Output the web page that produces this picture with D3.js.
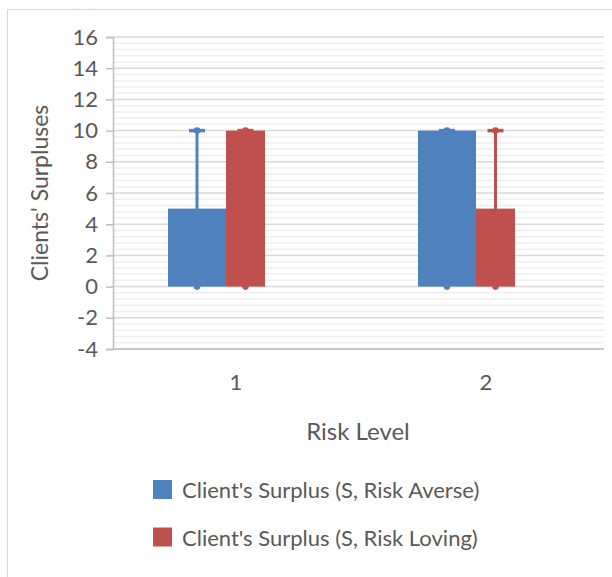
<!DOCTYPE html>
<html>
<head>
<meta charset="utf-8">
<script src="https://cdn.jsdelivr.net/npm/d3@7"></script>
<style>
  body { margin: 0; background: #fff; }
  text { font-family: Lato, "Open Sans", sans-serif; fill: #595959; }
</style>
</head>
<body>
<div id="chart"></div>
<script>
// data
const categories = ["1", "2"];
const seriesNames = ["Client's Surplus (S, Risk Averse)", "Client's Surplus (S, Risk Loving)"];
const averseValues = [5, 10];
const lovingValues = [10, 5];
// error bar range for each bar (low, high)
const errLow = [0, 0];
const errHigh = [10, 10];
const yTicks = [-4, -2, 0, 2, 4, 6, 8, 10, 12, 14, 16];

const colors = ["#4f81bd", "#c0504d"];

let svgWidth = 612, svgHeight = 577;
let plot = {left: 113, top: 37, right: 604, bottom: 349};

let svg = d3.select("#chart").append("svg")
    .attr("width", svgWidth)
    .attr("height", svgHeight);

// outer chart border
svg.append("rect")
    .attr("x", 7.5).attr("y", 9.5)
    .attr("width", 620).attr("height", 600)
    .attr("fill", "none")
    .attr("stroke", "#d9d9d9")
    .attr("stroke-width", 1.2);

// category positions; the bar groups sit about 250px apart
let x = d3.scaleBand().domain(categories).range([110, 610]);
let y = d3.scaleLinear().domain([-4, 16]).range([plot.bottom, plot.top]);

//minor gridlines every 0.4
let minor = d3.range(-4, 16.001, 0.4).filter(v => Math.abs(v / 2 - Math.round(v / 2)) > 0.01);
svg.append("g")
    .selectAll("line")
    .data(minor)
    .enter().append("line")
    .attr("x1", plot.left).attr("x2", plot.right)
    .attr("y1", d => y(d)).attr("y2", d => y(d))
    .attr("stroke", "#efefef")
    .attr("stroke-width", 1.5);

//major gridlines
svg.append("g")
    .selectAll("line")
    .data(yTicks)
    .enter().append("line")
    .attr("x1", plot.left).attr("x2", plot.right)
    .attr("y1", d => y(d)).attr("y2", d => y(d))
    .attr("stroke", "#d9d9d9")
    .attr("stroke-width", 1.5);

//y axis
let yAxis = svg.append("g")
    .attr("transform", `translate(${plot.left}, 0)`)
    .call(d3.axisLeft(y).tickValues(yTicks).tickSize(7).tickPadding(8)
        .tickFormat(d => String(d)));
yAxis.select(".domain").attr("stroke", "#bfbfbf").attr("stroke-width", 1.5);
yAxis.selectAll(".tick line").attr("stroke", "#bfbfbf").attr("stroke-width", 1.5);
yAxis.selectAll(".tick text")
    .style("font-size", "22px")
    .style("font-family", "Lato, sans-serif")
    .attr("fill", "#595959");

//x axis line along the bottom of the plot
svg.append("line")
    .attr("x1", plot.left).attr("x2", plot.right)
    .attr("y1", plot.bottom).attr("y2", plot.bottom)
    .attr("stroke", "#bfbfbf").attr("stroke-width", 1.5);

//category labels
svg.append("g")
    .selectAll("text")
    .data(categories)
    .enter().append("text")
    .attr("x", c => x(c) + x.bandwidth() / 2 + 1)
    .attr("y", 390)
    .attr("text-anchor", "middle")
    .style("font-size", "22px")
    .text(String);

// bar geometry relative to category centre
let barDefs = [
    {values: averseValues, offset: -67, width: 58, color: colors[0]},
    {values: lovingValues, offset: -9, width: 39, color: colors[1]}
];

let center = c => x(c) + x.bandwidth() / 2;

//error bars drawn behind the bars
barDefs.forEach(s => {
    let g = svg.append("g");
    categories.forEach((c, i) => {
        let cx = center(c) + s.offset + s.width / 2;
        g.append("line")
            .attr("x1", cx).attr("x2", cx)
            .attr("y1", y(errLow[i])).attr("y2", y(errHigh[i]))
            .attr("stroke", s.color).attr("stroke-width", 3);
        g.append("line")
            .attr("x1", cx - 8).attr("x2", cx + 8)
            .attr("y1", y(errHigh[i])).attr("y2", y(errHigh[i]))
            .attr("stroke", s.color).attr("stroke-width", 3.5);
        g.selectAll(null)
            .data([errLow[i], errHigh[i]])
            .enter().append("circle")
            .attr("cx", cx).attr("cy", d => y(d))
            .attr("r", 3.3)
            .attr("fill", s.color);
    });
});

//bars
barDefs.forEach(s => {
    svg.append("g")
        .selectAll("rect")
        .data(categories)
        .enter().append("rect")
        .attr("x", c => center(c) + s.offset)
        .attr("width", s.width)
        .attr("y", (c, i) => y(Math.max(0, s.values[i])))
        .attr("height", (c, i) => Math.abs(y(s.values[i]) - y(0)))
        .attr("fill", s.color);
});

//axis titles
svg.append("text")
    .attr("transform", `translate(42, ${(plot.top + plot.bottom) / 2}) rotate(-90)`)
    .attr("text-anchor", "middle")
    .attr("dominant-baseline", "middle")
    .style("font-size", "23px")
    .text("Clients' Surpluses");

svg.append("text")
    .attr("x", 358)
    .attr("y", 440)
    .attr("text-anchor", "middle")
    .style("font-size", "24px")
    .text("Risk Level");

//legend
let legend = svg.append("g")
    .selectAll("g")
    .data(seriesNames)
    .enter().append("g")
    .attr("transform", (d, i) => `translate(153, ${480 + i * 47.5})`);
legend.append("rect")
    .attr("width", 19).attr("height", 19)
    .attr("fill", (d, i) => colors[i]);
legend.append("text")
    .attr("x", 29)
    .attr("y", 18)
    .style("font-size", "22px")
    .text(d => d);
</script>
</body>
</html>
